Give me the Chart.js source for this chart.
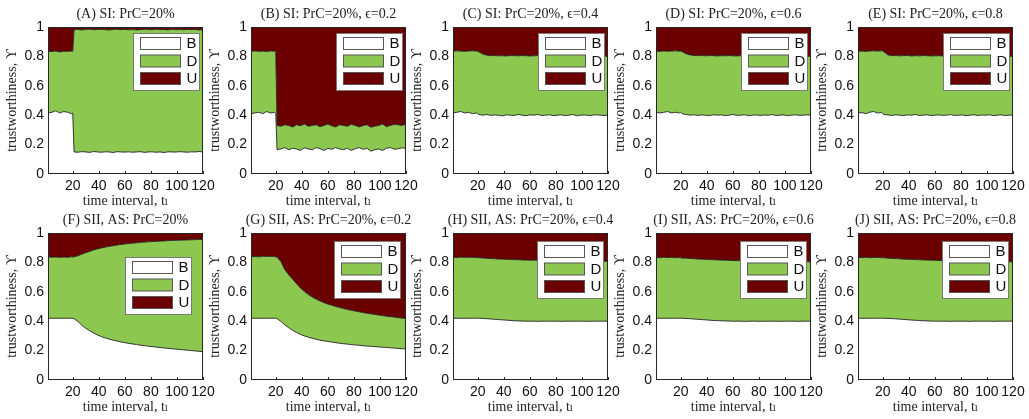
<!DOCTYPE html>
<html>
<head>
<meta charset="utf-8">
<title>Trustworthiness shares over time</title>
<script src="https://cdn.jsdelivr.net/npm/chart.js@4.4.1/dist/chart.umd.min.js"></script>
<style>
  html, body { margin: 0; padding: 0; background: #fff; }
  #board { position: relative; width: 1029px; height: 419px; overflow: hidden; }
  #board canvas { position: absolute; }
</style>
</head>
<body>
<div id="board"></div>
<script>
// sampled time intervals (shared by every panel)
const steps = [1, 4, 7, 10, 13, 16, 19, 20,
  21, 24, 27, 30, 33, 36, 39, 42, 45, 48, 51, 54, 57, 60, 63, 66, 69, 72, 75, 78,
  81, 84, 87, 90, 93, 96, 99, 102, 105, 108, 111, 114, 117, 120];

const xTicks = [20, 40, 60, 80, 100, 120];
const yTicks = [0, 0.2, 0.4, 0.6, 0.8, 1];
const yTickLabels = ['0', '0.2', '0.4', '0.6', '0.8', '1'];
const shareLabels = ['B', 'D', 'U'];

const panelTitles = [
  '(A) SI: PrC=20%',
  '(B) SI: PrC=20%, ϵ=0.2',
  '(C) SI: PrC=20%, ϵ=0.4',
  '(D) SI: PrC=20%, ϵ=0.6',
  '(E) SI: PrC=20%, ϵ=0.8',
  '(F) SII, AS: PrC=20%',
  '(G) SII, AS: PrC=20%, ϵ=0.2',
  '(H) SII, AS: PrC=20%, ϵ=0.4',
  '(I) SII, AS: PrC=20%, ϵ=0.6',
  '(J) SII, AS: PrC=20%, ϵ=0.8'
];

// bX = share of B, bdX = B + D (top of the D band); U is what is left up to 1
const bA = [0.415, 0.42, 0.43, 0.415, 0.425, 0.42, 0.41, 0.415,
  0.15, 0.148, 0.152, 0.15, 0.147, 0.153, 0.15, 0.148, 0.151, 0.15,
  0.146, 0.152, 0.15, 0.149, 0.151, 0.148, 0.15, 0.152, 0.147, 0.15,
  0.151, 0.148, 0.15, 0.146, 0.151, 0.15, 0.149, 0.152, 0.15, 0.148,
  0.151, 0.15, 0.153, 0.15];
const bdA = [0.835, 0.833, 0.836, 0.83, 0.835, 0.834, 0.836, 0.835,
  0.982, 0.984, 0.98, 0.983, 0.985, 0.981, 0.983, 0.984, 0.982, 0.98,
  0.983, 0.985, 0.982, 0.984, 0.981, 0.983, 0.98, 0.982, 0.984, 0.983,
  0.981, 0.985, 0.982, 0.983, 0.98, 0.984, 0.982, 0.983, 0.981, 0.984,
  0.982, 0.983, 0.98, 0.982];

const bB = [0.41, 0.415, 0.42, 0.41, 0.425, 0.415, 0.42, 0.41,
  0.165, 0.17, 0.18, 0.165, 0.175, 0.17, 0.16, 0.178, 0.17, 0.165,
  0.18, 0.172, 0.16, 0.175, 0.168, 0.18, 0.17, 0.165, 0.175, 0.16,
  0.172, 0.18, 0.168, 0.175, 0.155, 0.165, 0.17, 0.16, 0.175, 0.18,
  0.168, 0.172, 0.178, 0.175];
const bdB = [0.835, 0.837, 0.834, 0.836, 0.833, 0.837, 0.835, 0.836,
  0.33, 0.325, 0.335, 0.33, 0.32, 0.335, 0.328, 0.34, 0.325, 0.33,
  0.335, 0.322, 0.33, 0.34, 0.328, 0.32, 0.335, 0.33, 0.325, 0.338,
  0.33, 0.32, 0.33, 0.335, 0.318, 0.325, 0.33, 0.34, 0.322, 0.33,
  0.338, 0.335, 0.33, 0.34];

const bC = [0.415, 0.42, 0.425, 0.415, 0.42, 0.41, 0.415, 0.41,
  0.405, 0.4, 0.405, 0.398, 0.402, 0.4, 0.395, 0.403, 0.4, 0.398,
  0.405, 0.4, 0.397, 0.402, 0.4, 0.405, 0.398, 0.4, 0.403, 0.397,
  0.4, 0.402, 0.398, 0.4, 0.405, 0.396, 0.4, 0.402, 0.398, 0.4,
  0.403, 0.4, 0.398, 0.4];
const bdC = [0.835, 0.838, 0.836, 0.834, 0.837, 0.838, 0.836, 0.835,
  0.83, 0.815, 0.808, 0.805, 0.806, 0.804, 0.805, 0.803, 0.806, 0.805,
  0.804, 0.806, 0.805, 0.803, 0.804, 0.806, 0.805, 0.804, 0.803, 0.805,
  0.804, 0.802, 0.804, 0.803, 0.802, 0.803, 0.801, 0.802, 0.803, 0.8,
  0.801, 0.802, 0.8, 0.801];

const bD = [0.42, 0.415, 0.42, 0.425, 0.415, 0.42, 0.415, 0.42,
  0.41, 0.405, 0.4, 0.403, 0.398, 0.402, 0.4, 0.397, 0.403, 0.4,
  0.402, 0.398, 0.4, 0.405, 0.399, 0.4, 0.403, 0.397, 0.4, 0.402,
  0.398, 0.401, 0.4, 0.404, 0.398, 0.4, 0.402, 0.397, 0.4, 0.403,
  0.399, 0.4, 0.402, 0.4];
const bdD = [0.836, 0.834, 0.837, 0.835, 0.836, 0.838, 0.835, 0.836,
  0.832, 0.818, 0.81, 0.806, 0.805, 0.807, 0.804, 0.806, 0.805, 0.803,
  0.805, 0.804, 0.806, 0.804, 0.803, 0.805, 0.804, 0.802, 0.804, 0.803,
  0.805, 0.803, 0.802, 0.803, 0.801, 0.803, 0.802, 0.8, 0.802, 0.801,
  0.8, 0.802, 0.801, 0.8];

const bE = [0.415, 0.418, 0.41, 0.42, 0.425, 0.415, 0.418, 0.41,
  0.405, 0.402, 0.398, 0.403, 0.4, 0.397, 0.402, 0.4, 0.405, 0.398,
  0.4, 0.403, 0.397, 0.4, 0.402, 0.399, 0.4, 0.404, 0.398, 0.4,
  0.402, 0.397, 0.4, 0.403, 0.398, 0.401, 0.4, 0.403, 0.397, 0.4,
  0.402, 0.398, 0.4, 0.401];
const bdE = [0.835, 0.836, 0.834, 0.837, 0.838, 0.836, 0.838, 0.836,
  0.83, 0.81, 0.805, 0.806, 0.804, 0.805, 0.806, 0.803, 0.805, 0.804,
  0.806, 0.805, 0.803, 0.804, 0.805, 0.803, 0.804, 0.802, 0.804, 0.803,
  0.802, 0.804, 0.802, 0.803, 0.801, 0.802, 0.8, 0.802, 0.801, 0.802,
  0.8, 0.801, 0.8, 0.801];

const bF = [0.42, 0.42, 0.42, 0.42, 0.42, 0.42, 0.42, 0.42,
  0.418, 0.398, 0.372, 0.352, 0.335, 0.32, 0.306, 0.295, 0.286, 0.278,
  0.271, 0.265, 0.259, 0.254, 0.249, 0.245, 0.241, 0.237, 0.234, 0.23,
  0.227, 0.224, 0.221, 0.218, 0.215, 0.213, 0.21, 0.208, 0.205, 0.203,
  0.2, 0.198, 0.195, 0.193];
const bdF = [0.838, 0.835, 0.837, 0.834, 0.836, 0.835, 0.838, 0.836,
  0.838, 0.845, 0.856, 0.866, 0.875, 0.884, 0.892, 0.898, 0.904, 0.909,
  0.914, 0.918, 0.922, 0.925, 0.928, 0.931, 0.933, 0.936, 0.938, 0.94,
  0.942, 0.943, 0.945, 0.946, 0.948, 0.949, 0.95, 0.951, 0.952, 0.953,
  0.954, 0.955, 0.956, 0.957];

const bG = [0.42, 0.42, 0.42, 0.42, 0.42, 0.42, 0.42, 0.42,
  0.418, 0.398, 0.375, 0.355, 0.338, 0.323, 0.31, 0.3, 0.291, 0.284,
  0.277, 0.271, 0.266, 0.262, 0.258, 0.254, 0.25, 0.247, 0.244, 0.241,
  0.238, 0.236, 0.233, 0.231, 0.229, 0.227, 0.225, 0.223, 0.221, 0.219,
  0.217, 0.215, 0.213, 0.211];
const bdG = [0.838, 0.84, 0.838, 0.842, 0.84, 0.841, 0.84, 0.838,
  0.835, 0.805, 0.75, 0.715, 0.685, 0.655, 0.625, 0.602, 0.582, 0.565,
  0.55, 0.537, 0.526, 0.516, 0.508, 0.5, 0.493, 0.486, 0.48, 0.474,
  0.469, 0.464, 0.459, 0.454, 0.45, 0.446, 0.442, 0.438, 0.434, 0.431,
  0.428, 0.424, 0.421, 0.418];

const bH = [0.42, 0.42, 0.42, 0.42, 0.42, 0.42, 0.42, 0.42,
  0.42, 0.419, 0.417, 0.415, 0.413, 0.411, 0.409, 0.407, 0.405, 0.403,
  0.402, 0.401, 0.4, 0.4, 0.4, 0.399, 0.4, 0.4, 0.4, 0.4,
  0.4, 0.399, 0.4, 0.4, 0.4, 0.4, 0.4, 0.4, 0.399, 0.4,
  0.4, 0.4, 0.4, 0.4];
const bdH = [0.835, 0.833, 0.836, 0.834, 0.835, 0.834, 0.833, 0.832,
  0.832, 0.83, 0.828, 0.826, 0.825, 0.823, 0.822, 0.821, 0.82, 0.819,
  0.818, 0.817, 0.816, 0.815, 0.815, 0.814, 0.813, 0.813, 0.812, 0.812,
  0.811, 0.811, 0.81, 0.81, 0.81, 0.809, 0.809, 0.809, 0.808, 0.808,
  0.808, 0.807, 0.807, 0.807];

const bI = [0.42, 0.42, 0.42, 0.42, 0.42, 0.42, 0.42, 0.42,
  0.42, 0.419, 0.417, 0.415, 0.413, 0.411, 0.409, 0.407, 0.405, 0.404,
  0.403, 0.402, 0.401, 0.4, 0.4, 0.4, 0.399, 0.4, 0.4, 0.4,
  0.399, 0.4, 0.4, 0.4, 0.4, 0.399, 0.4, 0.4, 0.4, 0.4,
  0.399, 0.4, 0.4, 0.4];
const bdI = [0.834, 0.832, 0.835, 0.833, 0.834, 0.832, 0.833, 0.831,
  0.83, 0.829, 0.827, 0.825, 0.823, 0.822, 0.82, 0.819, 0.818, 0.817,
  0.816, 0.815, 0.814, 0.813, 0.812, 0.812, 0.811, 0.81, 0.81, 0.809,
  0.809, 0.808, 0.808, 0.807, 0.807, 0.806, 0.806, 0.806, 0.805, 0.805,
  0.805, 0.804, 0.804, 0.804];

const bJ = [0.42, 0.42, 0.42, 0.42, 0.42, 0.42, 0.42, 0.42,
  0.42, 0.419, 0.418, 0.416, 0.414, 0.412, 0.41, 0.408, 0.406, 0.405,
  0.403, 0.402, 0.401, 0.4, 0.4, 0.4, 0.4, 0.399, 0.4, 0.4,
  0.4, 0.4, 0.399, 0.4, 0.4, 0.4, 0.4, 0.4, 0.399, 0.4,
  0.4, 0.4, 0.4, 0.4];
const bdJ = [0.834, 0.833, 0.835, 0.832, 0.834, 0.833, 0.832, 0.832,
  0.831, 0.829, 0.827, 0.826, 0.824, 0.822, 0.821, 0.82, 0.819, 0.818,
  0.817, 0.816, 0.815, 0.814, 0.813, 0.812, 0.812, 0.811, 0.81, 0.81,
  0.809, 0.809, 0.808, 0.808, 0.807, 0.807, 0.806, 0.806, 0.806, 0.805,
  0.805, 0.805, 0.804, 0.804];

const lowerLevels = [bA, bB, bC, bD, bE, bF, bG, bH, bI, bJ];
const upperLevels = [bdA, bdB, bdC, bdD, bdE, bdF, bdG, bdH, bdI, bdJ];

// page layout
const panelLeft = [0, 203, 405, 608, 810];
const rowTop = [0, 206];
const W = 220, H = 212;
const legendSpots = [
  { right: 4.5, top: 6 }, { right: 4.5, top: 6 }, { right: 4.5, top: 6 }, { right: 4.5, top: 6 }, { right: 4.5, top: 6 },
  { right: 12, top: 24 }, { right: 6, top: 7.5 }, { right: 5, top: 7.5 }, { right: 5, top: 7.5 }, { right: 5, top: 7.5 }
];

const colB = '#ffffff';
const colD = '#8cc850';
const colU = '#6b0000';
const edge = '#1e1e1e';
const serif = '"Liberation Serif", "DejaVu Serif", serif';
const sans = '"Liberation Sans", Arial, sans-serif';

const board = document.getElementById('board');

function toPoints(vals) {
  return steps.map((t, i) => ({ x: t, y: vals[i] }));
}

// serif caption centred over the plot box
function panelTitle(text) {
  return {
    id: 'panelTitle',
    afterDraw(chart) {
      const { ctx, chartArea: a } = chart;
      ctx.save();
      ctx.font = '14px ' + serif;
      ctx.fillStyle = '#222';
      ctx.textAlign = 'center';
      ctx.textBaseline = 'middle';
      ctx.fillText(text, (a.left + a.right) / 2, 14);
      ctx.restore();
    }
  };
}

// box around the axes plus short inward ticks on the bottom edge
const axesFrame = {
  id: 'axesFrame',
  afterDatasetsDraw(chart) {
    const { ctx, chartArea: a, scales: { x } } = chart;
    ctx.save();
    ctx.strokeStyle = '#262626';
    ctx.lineWidth = 1;
    ctx.beginPath();
    x.ticks.forEach(t => {
      const px = Math.round(x.getPixelForValue(t.value)) + 0.5;
      ctx.moveTo(px, a.bottom);
      ctx.lineTo(px, a.bottom - 3);
    });
    ctx.stroke();
    ctx.strokeRect(Math.round(a.left) + 0.5, Math.round(a.top) + 0.5,
      Math.round(a.width) - 1, Math.round(a.height) - 1);
    ctx.restore();
  }
};

// matlab-style legend box sitting inside the axes
function boxLegend(spot) {
  return {
    id: 'boxLegend',
    afterDraw(chart) {
      const { ctx, chartArea: a } = chart;
      const w = 66, h = 57;
      const x0 = Math.round(a.right - spot.right - w) + 0.5;
      const y0 = Math.round(a.top + spot.top) + 0.5;
      ctx.save();
      ctx.fillStyle = '#fff';
      ctx.fillRect(x0, y0, w, h);
      ctx.strokeStyle = '#7a7a7a';
      ctx.lineWidth = 1;
      ctx.strokeRect(x0, y0, w, h);
      ctx.font = '15px ' + sans;
      ctx.textBaseline = 'middle';
      chart.data.datasets.forEach((ds, k) => {
        const sy = y0 + 4 + k * 17.5;
        ctx.fillStyle = ds.backgroundColor;
        ctx.fillRect(x0 + 7, sy, 40, 12);
        ctx.strokeStyle = '#555';
        ctx.strokeRect(x0 + 7, sy, 40, 12);
        ctx.fillStyle = '#111';
        ctx.fillText(ds.label, x0 + 53, sy + 6.5);
      });
      ctx.restore();
    }
  };
}

function drawPanel(i) {
  const cv = document.createElement('canvas');
  cv.width = W;
  cv.height = H;
  cv.style.left = panelLeft[i % 5] + 'px';
  cv.style.top = rowTop[Math.floor(i / 5)] + 'px';
  board.appendChild(cv);

  new Chart(cv, {
    type: 'line',
    data: {
      datasets: [
        { label: shareLabels[0], data: toPoints(lowerLevels[i]), fill: 'origin',
          backgroundColor: colB, borderColor: edge, borderWidth: 0.9 },
        { label: shareLabels[1], data: toPoints(upperLevels[i]), fill: '-1',
          backgroundColor: colD, borderColor: edge, borderWidth: 0.9 },
        { label: shareLabels[2], data: toPoints(upperLevels[i]), fill: 'end',
          backgroundColor: colU, borderColor: 'transparent', borderWidth: 0 }
      ]
    },
    options: {
      responsive: false,
      animation: false,
      devicePixelRatio: 1,
      layout: { padding: { left: 0, right: 17, top: 27, bottom: 0 } },
      elements: { point: { radius: 0 }, line: { tension: 0 } },
      plugins: { legend: { display: false }, tooltip: { enabled: false } },
      scales: {
        x: {
          type: 'linear', min: 1, max: 120,
          afterBuildTicks: s => { s.ticks = xTicks.map(v => ({ value: v })); },
          ticks: { font: { family: sans, size: 14 }, color: '#111', padding: 4, maxRotation: 0, autoSkip: false },
          grid: { display: false, drawTicks: false },
          border: { display: false },
          title: { display: true, text: 'time interval, tₗ', font: { family: serif, size: 14 },
            color: '#222', padding: { top: 0, bottom: 2 } },
          afterFit: s => { s.height = 38; }
        },
        y: {
          min: 0, max: 1,
          afterBuildTicks: s => { s.ticks = yTicks.map(v => ({ value: v })); },
          ticks: { font: { family: sans, size: 14 }, color: '#111', padding: 4,
            callback: (v, k) => yTickLabels[k] },
          grid: { display: false, drawTicks: false },
          border: { display: false },
          title: { display: true, text: 'trustworthiness, ϒ', font: { family: serif, size: 14 },
            color: '#222', padding: { top: 4, bottom: 0 } },
          afterFit: s => { s.width = 48; }
        }
      }
    },
    plugins: [axesFrame, panelTitle(panelTitles[i]), boxLegend(legendSpots[i])]
  });
}

panelTitles.forEach((t, i) => drawPanel(i));
</script>
</body>
</html>
